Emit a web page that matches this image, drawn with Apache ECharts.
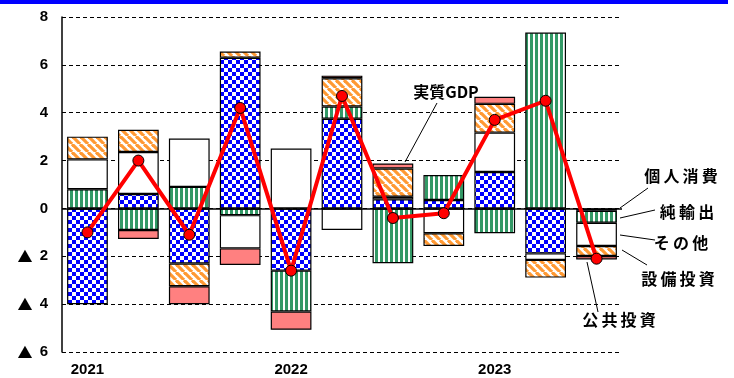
<!DOCTYPE html>
<html lang="ja">
<head>
<meta charset="UTF-8">
<title>GDP contribution</title>
<script src="https://cdn.jsdelivr.net/npm/echarts@6/dist/echarts.min.js"></script>
<style>
  html, body { margin: 0; padding: 0; background: #fff; }
</style>
</head>
<body>
<div id="main" style="width:734px;height:378px;"></div>
<script type="text/javascript">
    // 四半期 (2021Q1 - 2023Q3)
    var quarters = ['2021', '', '', '', '2022', '', '', '', '2023', '', ''];
    var consumption = [-4.0, 0.6, -2.3, 6.3, -2.6, 3.75, 0.38, 0.35, 1.52, -1.88, -0.1];
    var netExports  = [0.8, -0.9, 0.9, -0.28, -1.71, 0.51, -2.29, 1.05, -1.04, 7.35, -0.5];
    var others      = [1.25, 1.76, 2.02, -1.39, 2.5, -0.9, 0.11, -1.04, 1.65, -0.27, -0.97];
    var capex       = [0.95, 0.93, -0.95, 0.26, null, 1.18, 1.18, -0.53, 1.2, -0.74, -0.42];
    var publicInv   = [null, -0.38, -0.75, -0.69, -0.76, 0.11, 0.21, null, 0.3, null, -0.14];
    var realGDP     = [-1.0, 2.0, -1.1, 4.2, -2.6, 4.7, -0.4, -0.2, 3.7, 4.5, -2.1];

    // 模様 (パターン)
    function makeTile(w, h, draw) {
        var c = document.createElement('canvas');
        c.width = w; c.height = h;
        var ctx = c.getContext('2d');
        ctx.fillStyle = '#ffffff';
        ctx.fillRect(0, 0, w, h);
        draw(ctx);
        return { image: c, repeat: 'repeat' };
    }
    var checker = makeTile(8, 8, function (ctx) {
        ctx.fillStyle = '#0000ff';
        ctx.fillRect(0, 0, 4, 4);
        ctx.fillRect(4, 4, 4, 4);
    });
    var vstripe = makeTile(5, 5, function (ctx) {
        ctx.fillStyle = '#339966';
        ctx.fillRect(0, 0, 3, 5);
    });
    var diag = makeTile(8, 8, function (ctx) {
        ctx.strokeStyle = '#ff9933';
        ctx.lineWidth = 3.2;
        for (var x0 = -8; x0 <= 8; x0 += 8) {
            ctx.beginPath();
            ctx.moveTo(x0, 0);
            ctx.lineTo(x0 + 8, 8);
            ctx.stroke();
        }
    });

    function barSeries(name, data, color) {
        return {
            name: name,
            type: 'bar',
            stack: 'total',
            barWidth: '80%',
            data: data,
            itemStyle: { color: color, borderColor: '#000', borderWidth: 1.2 },
            emphasis: { disabled: true },
            animation: false
        };
    }

    var myChart = echarts.init(document.getElementById('main'));
    var labelFont = 'bold 16px "Noto Sans CJK JP"';
    var sp = '\u2009';
    myChart.setOption({
        backgroundColor: '#ffffff',
        animation: false,
        grid: { left: 62, right: 112, top: 17, bottom: 26 },
        xAxis: {
            type: 'category',
            data: quarters,
            axisLine: { show: false },
            axisTick: { show: false },
            axisLabel: {
                interval: 0,
                margin: 10,
                color: '#000',
                fontFamily: 'Liberation Sans',
                fontWeight: 'bold',
                fontSize: 15
            },
            splitLine: { show: false }
        },
        yAxis: {
            type: 'value',
            min: -6,
            max: 8,
            interval: 2,
            axisLine: { show: true, lineStyle: { color: '#000', width: 1.5 } },
            axisTick: { show: false },
            axisLabel: {
                margin: 14,
                color: '#000',
                fontFamily: 'Liberation Sans',
                fontWeight: 'bold',
                fontSize: 15,
                formatter: function (v) {
                    return v < 0 ? '{tri|▲}{n| ' + (-v) + '}' : '{n|' + v + '}';
                },
                rich: {
                    tri: { fontFamily: 'Noto Sans CJK JP', fontSize: 15, color: '#000', padding: [0, 3, 0, 0] },
                    n: { fontFamily: 'Liberation Sans', fontWeight: 'bold', fontSize: 15, color: '#000' }
                }
            },
            splitLine: { show: true, lineStyle: { color: '#000', type: [4, 3], width: 1 } }
        },
        series: [
            barSeries('個人消費', consumption, checker),
            barSeries('純輸出', netExports, vstripe),
            barSeries('その他', others, '#ffffff'),
            barSeries('設備投資', capex, diag),
            barSeries('公共投資', publicInv, '#ff8080'),
            {
                name: '実質GDP',
                type: 'line',
                data: realGDP,
                z: 10,
                symbol: 'circle',
                symbolSize: 11,
                lineStyle: { color: '#ff0000', width: 4 },
                itemStyle: { color: '#ff0000', borderColor: '#000', borderWidth: 1 },
                markLine: {
                    silent: true,
                    symbol: 'none',
                    label: { show: false },
                    lineStyle: { color: '#000', type: 'solid', width: 1.5 },
                    data: [{ yAxis: 0 }]
                }
            }
        ],
        graphic: [
            { type: 'rect', shape: { x: 0, y: 0, width: 728, height: 4 }, style: { fill: '#0000ff' } },
            // 引き出し線
            { type: 'line', shape: { x1: 437, y1: 103, x2: 405, y2: 162 }, style: { stroke: '#000', lineWidth: 1 } },
            { type: 'line', shape: { x1: 620, y1: 208, x2: 648, y2: 188 }, style: { stroke: '#000', lineWidth: 1 } },
            { type: 'line', shape: { x1: 620, y1: 218, x2: 655, y2: 210 }, style: { stroke: '#000', lineWidth: 1 } },
            { type: 'line', shape: { x1: 620, y1: 235, x2: 655, y2: 240 }, style: { stroke: '#000', lineWidth: 1 } },
            { type: 'line', shape: { x1: 622, y1: 250, x2: 647, y2: 265 }, style: { stroke: '#000', lineWidth: 1 } },
            { type: 'line', shape: { x1: 587, y1: 262, x2: 598, y2: 312 }, style: { stroke: '#000', lineWidth: 1 } },
            // 系列名
            { type: 'text', x: 446, y: 92, style: { text: '実質GDP', font: labelFont, fill: '#000', align: 'center', verticalAlign: 'middle' } },
            { type: 'text', x: 681, y: 176, style: { text: ['個', '人', '消', '費'].join(sp), font: labelFont, fill: '#000', align: 'center', verticalAlign: 'middle' } },
            { type: 'text', x: 687, y: 212, style: { text: ['純', '輸', '出'].join(sp), font: labelFont, fill: '#000', align: 'center', verticalAlign: 'middle' } },
            { type: 'text', x: 681, y: 243, style: { text: ['そ', 'の', '他'].join(sp), font: labelFont, fill: '#000', align: 'center', verticalAlign: 'middle' } },
            { type: 'text', x: 678, y: 279, style: { text: ['設', '備', '投', '資'].join(sp), font: labelFont, fill: '#000', align: 'center', verticalAlign: 'middle' } },
            { type: 'text', x: 619, y: 320, style: { text: ['公', '共', '投', '資'].join(sp), font: labelFont, fill: '#000', align: 'center', verticalAlign: 'middle' } }
        ]
    });
</script>
</body>
</html>
